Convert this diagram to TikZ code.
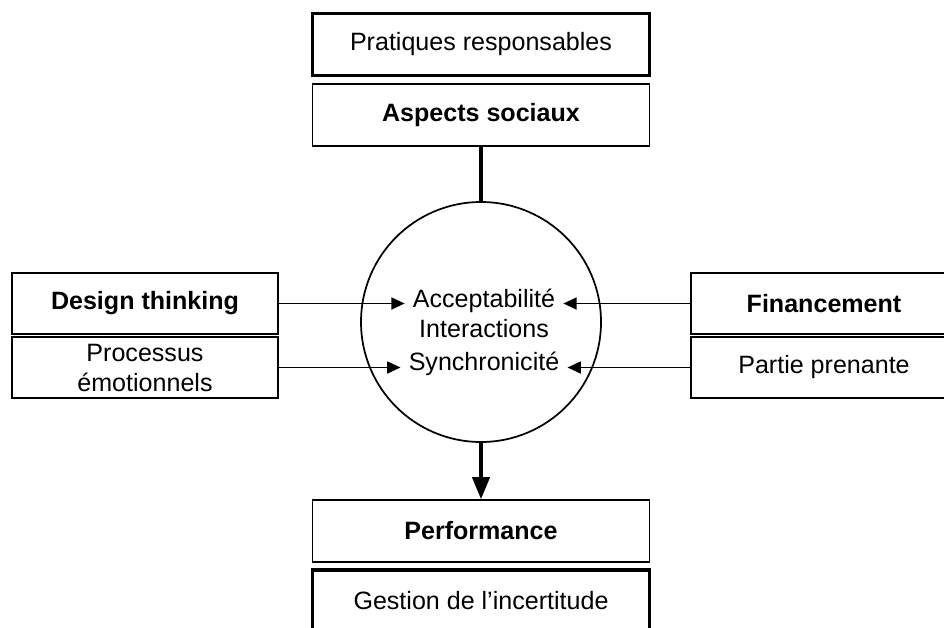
\documentclass[tikz,border=0pt]{standalone}
\usepackage{fontspec}
\setmainfont{Liberation Sans}
\usepackage{tikz}
\usetikzlibrary{arrows.meta}
\usetikzlibrary{shapes,arrows}
\tikzstyle{box} = [draw, line width=1.3pt, minimum width=252.75pt, minimum height=46.5pt, align=center]
\tikzstyle{heavybox} = [box, line width=2.4pt]
\tikzstyle{sidebox} = [draw, line width=1.3pt, minimum width=199.5pt, minimum height=45.75pt, align=center]
\tikzstyle{arrow} = [line width=1.3pt,-{Triangle[length=10pt,width=9pt]}]
\tikzstyle{bigarrow} = [line width=2.4pt,-{Triangle[length=16.5pt,width=13pt]}]

\begin{document}
\begin{tikzpicture}[
            x=0.75pt, y=-0.75pt,
            font=\fontsize{18.8pt}{22.5pt}\selectfont
        ]
            \useasboundingbox (0,0) rectangle (944,627);
            \clip (0,0) rectangle (944,627);

            \node[heavybox] (pratiques) at (481,44.5) {Pratiques responsables};
            \node[box] (aspects) at (481,115) {\textbf{Aspects sociaux}};

            \node[draw, circle, line width=1.3pt, minimum size=180pt] (core) at (481,322) {};
            \node[anchor=base, inner sep=6pt] (accept) at (484,307) {Acceptabilité};
            \node[anchor=base, inner sep=6pt] (interact) at (484,337) {Interactions};
            \node[anchor=base, inner sep=6pt] (synchro) at (484,370) {Synchronicité};

            \node[sidebox] (design) at (145,303.5) {\textbf{Design thinking}};
            \node[sidebox] (processus) at (145,367.5) {Processus\\émotionnels};
            \node[sidebox] (finance) at (824,303.5) {\textbf{Financement}};
            \node[sidebox] (partie) at (824,367.5) {Partie prenante};

            \node[box] (perf) at (481,531) {\textbf{Performance}};
            \node[heavybox] (gestion) at (481,601) {Gestion de l’incertitude};

            \draw[line width=2.4pt] (aspects.south) -- (core.north);
            \draw[arrow] (design.east) -- (design.east -| accept.west);
            \draw[arrow] (processus.east) -- (processus.east -| synchro.west);
            \draw[arrow] (finance.west) -- (finance.west -| accept.east);
            \draw[arrow] (partie.west) -- (partie.west -| synchro.east);
            \draw[bigarrow] (core.south) -- (perf.north);

        \end{tikzpicture}
\end{document}
